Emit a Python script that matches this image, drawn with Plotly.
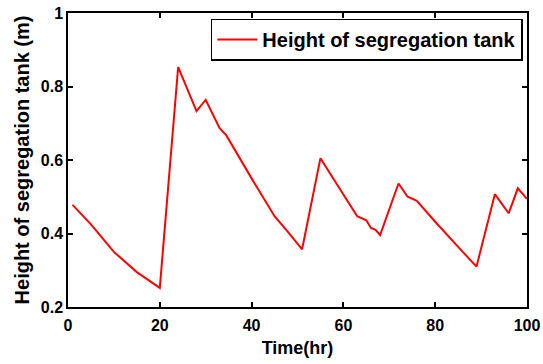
import plotly.graph_objects as go

# Segregation tank level over time (hours, metres)
time_hr = [1, 5, 10, 15, 20, 24, 28, 30, 33, 34.5, 40, 45, 48, 51, 55, 63, 65,
           66, 67, 68, 72, 74, 76, 80, 86, 89, 93, 96, 98, 100]
height_m = [0.478, 0.425, 0.35, 0.295, 0.252, 0.853, 0.733, 0.764, 0.687, 0.667,
            0.55, 0.447, 0.403, 0.357, 0.605, 0.447, 0.436, 0.415, 0.41, 0.396,
            0.536, 0.5, 0.489, 0.432, 0.35, 0.31, 0.507, 0.455, 0.523, 0.494]

x_ticks = [0, 20, 40, 60, 80, 100]
y_ticks = [0.2, 0.4, 0.6, 0.8, 1.0]
y_tick_labels = ["0.2", "0.4", "0.6", "0.8", "1"]

FONT = "Liberation Sans, Arial, sans-serif"

fig = go.Figure()
fig.add_trace(go.Scatter(
    x=time_hr, y=height_m, mode="lines",
    name="Height of segregation tank",
    line=dict(color="#ff0000", width=2),
))

axis_common = dict(
    showline=True, linecolor="black", linewidth=1.5, mirror="ticks",
    ticks="inside", ticklen=5, tickwidth=1.5, tickcolor="black",
    showgrid=False, zeroline=False, automargin=False,
    tickfont=dict(family=FONT, size=16, color="black", weight="bold"),
)

fig.update_xaxes(range=[0, 100], tickvals=x_ticks, **axis_common,
                 ticklabelstandoff=3,
                 title=dict(text="<b>Time(hr)</b>", standoff=8,
                            font=dict(family=FONT, size=18, color="black")))
fig.update_yaxes(range=[0.2, 1.0], tickvals=y_ticks, ticktext=y_tick_labels,
                 **axis_common,
                 title=dict(text="<b>Height of segregation tank (m)</b>", standoff=6,
                            font=dict(family=FONT, size=20, color="black")))

fig.update_layout(
    width=543, height=364,
    margin=dict(l=68, r=16, t=13, b=57),
    paper_bgcolor="white", plot_bgcolor="white",
    legend=dict(
        x=0.991, y=0.981, xanchor="right", yanchor="top",
        bgcolor="white", bordercolor="black", borderwidth=1.5,
        font=dict(family=FONT, size=20, color="black", weight="bold"),
        itemwidth=40,
    ),
    showlegend=True,
)

fig.write_html("out.html")
